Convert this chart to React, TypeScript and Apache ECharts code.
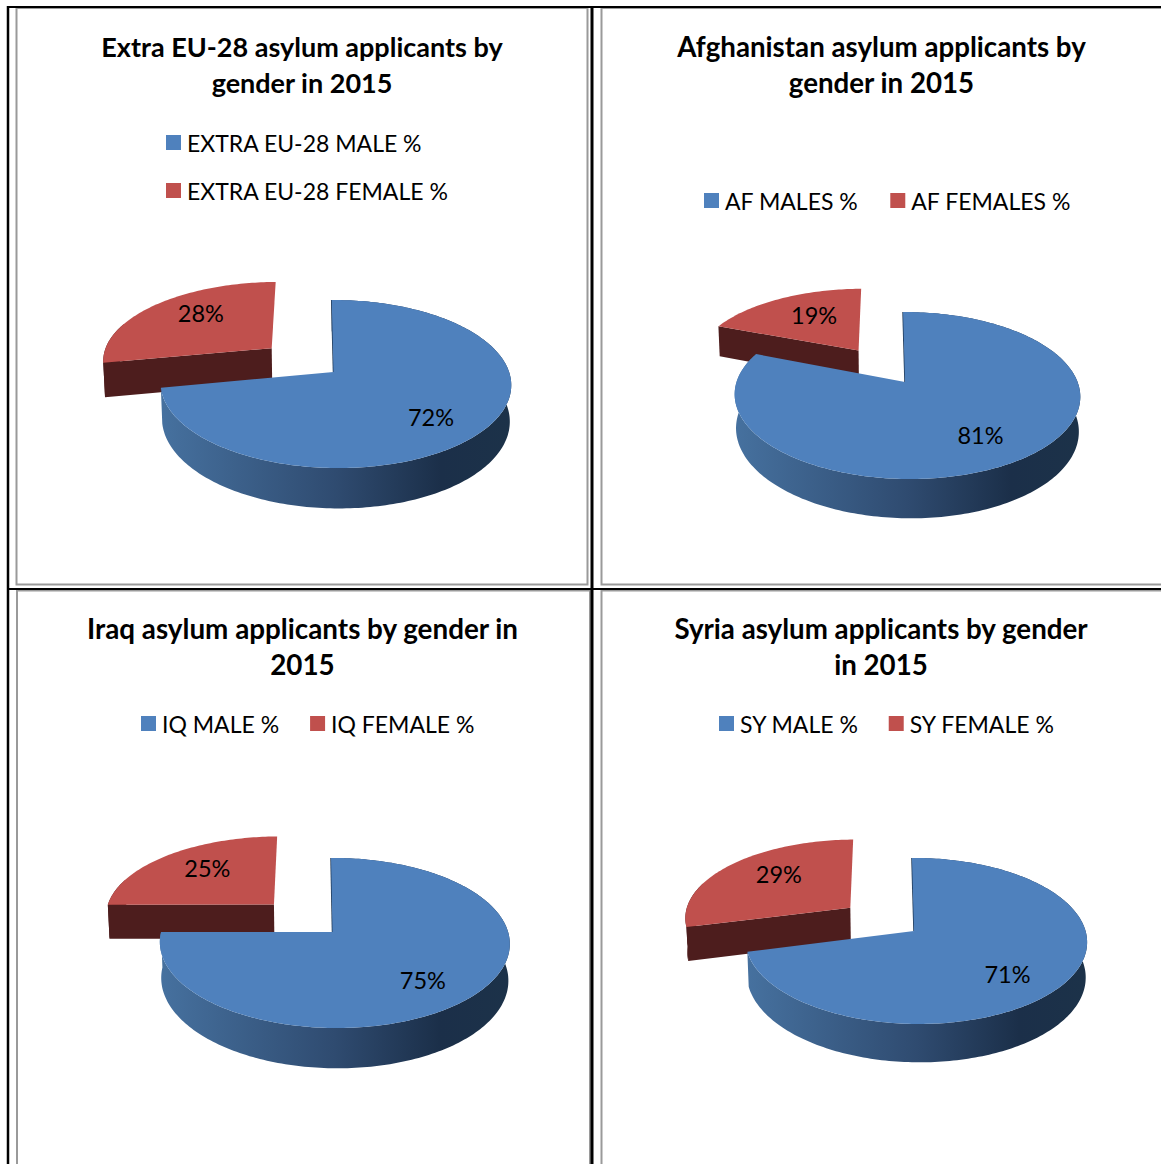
import React, { useEffect, useRef } from "react";
import * as echarts from "echarts";

// Applicant shares by gender, 2015
const chartTitles = [
  "Extra EU-28 asylum applicants by\ngender in 2015",
  "Afghanistan asylum applicants by\ngender in 2015",
  "Iraq asylum applicants by gender in\n2015",
  "Syria asylum applicants by gender\nin 2015",
];
const maleNames = ["EXTRA EU-28 MALE %", "AF MALES %", "IQ MALE %", "SY MALE %"];
const femaleNames = ["EXTRA EU-28 FEMALE %", "AF FEMALES %", "IQ FEMALE %", "SY FEMALE %"];
const maleShares = [72, 81, 75, 71];
const femaleShares = [28, 19, 25, 29];

const FONT = "Lato";
const BLUE = "#4f81bd";
const RED = "#c0504d";
const RED_SIDE = "#4d1d1d";
const PULLED_WIDEN = 1.02;
const PULLED_LEAN = 0.025;

// Camera model of each tilted disc: apex on the page, disc radius, foreshortening,
// perspective terms, extrusion depth and how far the smaller slice is pulled out.
const views = [
  { ax: 333.5, ay: 372, R: 173.5, s: 82.3, k: 0.143, m: -0.012, c: 35.7, n: 0.008, lean: 0.025, pull: 0.475, titleX: 302, titleY: 28, titleSize: 27, labels: [[-1, 7], [-6, -10]] },
  { ax: 905, ay: 382, R: 170.5, s: 81.3, k: 0.162, m: -0.012, c: 34, n: 0.008, lean: 0.028, pull: 0.5, titleX: 881.5, titleY: 28, titleSize: 27.7, labels: [[2, 2], [0, -5]] },
  { ax: 332.5, ay: 932, R: 173.5, s: 83.6, k: 0.129, m: -0.012, c: 36.2, n: 0.008, lean: 0.02, pull: 0.49, titleX: 302.5, titleY: 610, titleSize: 27.8, labels: [[0, 5], [-7, -8.5]] },
  { ax: 914, ay: 931, R: 169.5, s: 81.8, k: 0.12, m: -0.012, c: 34.8, n: 0.008, lean: 0.028, pull: 0.485, titleX: 881, titleY: 610, titleSize: 27.7, labels: [[-4, 7], [-5, -9]] },
];
const legendSpots = [
  { left: 166, top: 131, orient: "vertical", itemGap: 25 },
  { left: 704, top: 189, orient: "horizontal", itemGap: 32 },
  { left: 141, top: 712, orient: "horizontal", itemGap: 31 },
  { left: 719, top: 712, orient: "horizontal", itemGap: 30 },
];

type View = (typeof views)[number];

function project(v: View, x: number, y: number, z: number): number[] {
  const w = 1 + v.k * y + v.m * x + v.n * z;
  const sx = (v.R * x) / w;
  const up = (v.s * y - v.c * z) / w;
  return [v.ax + sx - (v.lean * v.s * y) / w, v.ay - up];
}

function arc(v: View, from: number, to: number, ox: number, oy: number, z: number, widen: number): number[][] {
  const steps = Math.max(8, Math.ceil(Math.abs(to - from) / 0.02));
  const pts: number[][] = [];
  for (let i = 0; i <= steps; i++) {
    const a = from + ((to - from) * i) / steps;
    pts.push(project(v, ox + widen * Math.sin(a), oy + Math.cos(a), z));
  }
  return pts;
}

function sliceSeries(index: number, name: string, isMale: boolean, value: number, startValue: number) {
  const base = views[index];
  const v = isMale ? base : { ...base, lean: base.lean + PULLED_LEAN };
  return {
    type: "custom",
    name,
    coordinateSystem: "none",
    silent: true,
    itemStyle: { color: isMale ? BLUE : RED },
    data: [[value, startValue]],
    renderItem: (_: unknown, api: any) => {
      const share = api.value(0) as number;
      const start = ((api.value(1) as number) / 100) * Math.PI * 2;
      const end = start + (share / 100) * Math.PI * 2;
      const mid = (start + end) / 2;
      const ox = isMale ? 0 : v.pull * Math.sin(mid);
      const oy = isMale ? 0 : v.pull * Math.cos(mid);
      const widen = isMale ? 1 : PULLED_WIDEN;

      const topArc = arc(v, start, end, ox, oy, 0, widen);
      const apexTop = project(v, ox, oy, 0);
      const apexBottom = project(v, ox, oy, 1);
      const children: any[] = [];

      if (isMale) {
        // Outer wall, shaded from left to right
        const bottomArc = arc(v, start, end, ox, oy, 1, widen);
        children.push({
          type: "polygon",
          shape: { points: [...topArc, ...bottomArc.slice().reverse()] },
          style: {
            fill: new echarts.graphic.LinearGradient(0, 0, 1, 0, [
              { offset: 0, color: "#46719f" },
              { offset: 0.5, color: "#2f4b70" },
              { offset: 0.8, color: "#1b2f49" },
              { offset: 1, color: "#1c3249" },
            ]),
          },
        });
        // Thin shaded edge along the face at 12 o'clock
        children.push({
          type: "polyline",
          shape: { points: [topArc[0], apexTop] },
          style: { stroke: "#1f3855", lineWidth: 1.5, fill: "none" },
        });
      } else {
        // Only the lower-left part of the pulled-out slice's wall can be seen
        const wallEnd = (290 / 360) * Math.PI * 2;
        if (start < wallEnd) {
          const wallTop = arc(v, start, wallEnd, ox, oy, 0, widen);
          const wallBottom = arc(v, start, wallEnd, ox, oy, 1, widen);
          children.push({
            type: "polygon",
            shape: { points: [...wallTop, ...wallBottom.slice().reverse()] },
            style: { fill: RED_SIDE },
          });
        }
        // Cut face turned towards the viewer
        const firstBottom = project(v, ox + widen * Math.sin(start), oy + Math.cos(start), 1);
        children.push({
          type: "polygon",
          shape: { points: [topArc[0], apexTop, apexBottom, firstBottom] },
          style: { fill: RED_SIDE },
        });
      }

      // Top face
      children.push({
        type: "polygon",
        shape: { points: [apexTop, ...topArc] },
        style: { fill: isMale ? BLUE : RED },
      });

      // Percentage label
      const radius = isMale ? 0.68 : 0.55;
      const at = project(v, ox + radius * Math.sin(mid), oy + radius * Math.cos(mid), 0);
      const nudge = v.labels[isMale ? 0 : 1];
      children.push({
        type: "text",
        style: {
          text: `${share}%`,
          x: at[0] + nudge[0],
          y: at[1] + nudge[1],
          align: "center",
          verticalAlign: "middle",
          fontFamily: FONT,
          fontSize: 23.5,
          fill: "#000",
        },
      });
      return { type: "group", children };
    },
  };
}

function frameLines() {
  const black = (x1: number, y1: number, x2: number, y2: number, w: number) => ({
    type: "line",
    shape: { x1, y1, x2, y2 },
    style: { stroke: "#000", lineWidth: w },
  });
  const gray = (x: number, y: number, width: number, height: number) => ({
    type: "rect",
    shape: { x, y, width, height },
    style: { fill: "none", stroke: "#9a9a9a", lineWidth: 2 },
  });
  return [
    gray(16.5, 8, 571, 576.5),
    gray(601.5, 8, 600, 576.5),
    gray(17, 590.5, 573, 600),
    gray(601.5, 590.5, 600, 600),
    black(8, 7, 1161, 7, 2),
    black(8, 6, 8, 1164, 2.5),
    black(592, 6, 592, 1164, 3),
    black(8, 589, 1161, 589, 2),
  ];
}

export default function App() {
  const ref = useRef<HTMLDivElement>(null);

  useEffect(() => {
    const chart = echarts.init(ref.current!, undefined, { renderer: "svg" });
    const series: any[] = [];
    maleShares.forEach((m, i) => {
      series.push(sliceSeries(i, femaleNames[i], false, femaleShares[i], m));
      series.push(sliceSeries(i, maleNames[i], true, m, 0));
    });
    chart.setOption({
      animation: false,
      backgroundColor: "#fff",
      title: chartTitles.map((text, i) => ({
        text,
        left: views[i].titleX,
        top: views[i].titleY,
        padding: 0,
        textAlign: "center",
        textStyle: { fontFamily: FONT, fontWeight: "bold", fontSize: views[i].titleSize, lineHeight: 36, color: "#000" },
      })),
      legend: legendSpots.map((spot, i) => ({
        ...spot,
        data: [
          { name: maleNames[i], icon: "rect" },
          { name: femaleNames[i], icon: "rect" },
        ],
        itemWidth: 15,
        itemHeight: 15,
        selectedMode: false,
        padding: 0,
        textStyle: { fontFamily: FONT, fontSize: 23, color: "#000", padding: [0, 0, 0, 1] },
      })),
      graphic: frameLines().map((el) => ({ ...el, silent: true })),
      series,
    });
    return () => chart.dispose();
  }, []);

  return <div ref={ref} style={{ position: "fixed", left: 0, top: 0, width: 1161, height: 1164 }} />;
}
